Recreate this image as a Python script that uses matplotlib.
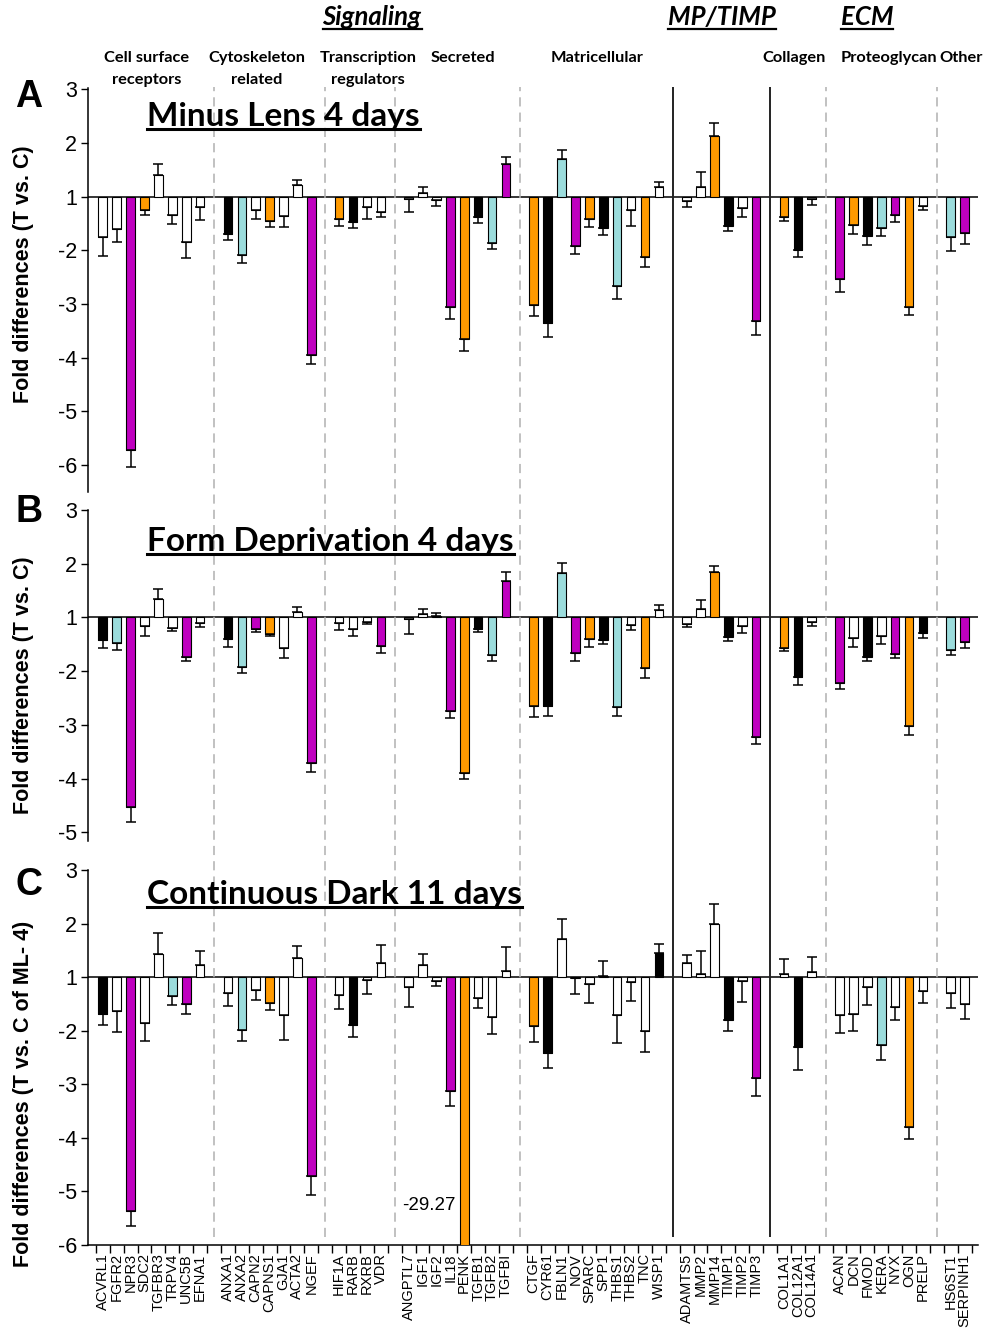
import matplotlib
matplotlib.use("Agg")
import matplotlib.pyplot as plt
from matplotlib.lines import Line2D

W, H = 985, 1332

# gene groups (left to right), an empty slot sits between groups
grp_cell = ["ACVRL1", "FGFR2", "NPR3", "SDC2", "TGFBR3", "TRPV4", "UNC5B", "EFNA1"]
grp_cyto = ["ANXA1", "ANXA2", "CAPN2", "CAPNS1", "GJA1", "ACTA2", "NGEF"]
grp_trans = ["HIF1A", "RARB", "RXRB", "VDR"]
grp_secr = ["ANGPTL7", "IGF1", "IGF2", "IL18", "PENK", "TGFB1", "TGFB2", "TGFBI"]
grp_matri = ["CTGF", "CYR61", "FBLN1", "NOV", "SPARC", "SPP1", "THBS1", "THBS2", "TNC", "WISP1"]
grp_mp = ["ADAMTS5", "MMP2", "MMP14", "TIMP1", "TIMP2", "TIMP3"]
grp_coll = ["COL1A1", "COL12A1", "COL14A1"]
grp_prot = ["ACAN", "DCN", "FMOD", "KERA", "NYX", "OGN", "PRELP"]
grp_other = ["HS6ST1", "SERPINH1"]
groups = [grp_cell, grp_cyto, grp_trans, grp_secr, grp_matri, grp_mp, grp_coll, grp_prot, grp_other]
sep_styles = ["dash", "dash", "dash", "dash", "solid", "solid", "dash", "dash"]

# fold differences (T vs C), one-sided errors, colour codes
ml_vals = [-1.76, -1.61, -5.72, -1.25, 1.40, -1.34, -1.84, -1.20,
           -1.70, -2.09, -1.25, -1.45, -1.37, 1.22, -3.95,
           -1.42, -1.48, -1.20, -1.28,
           -1.04, 1.06, -1.07, -3.06, -3.66, -1.39, -1.86, 1.60,
           -3.02, -3.35, 1.70, -1.92, -1.42, -1.58, -2.66, -1.25, -2.12, 1.17,
           -1.08, 1.17, 2.12, -1.54, -1.22, -3.32,
           -1.39, -1.99, -1.04,
           -2.53, -1.53, -1.73, -1.58, -1.35, -3.05, -1.17,
           -1.76, -1.68]
ml_err = [0.34, 0.23, 0.31, 0.09, 0.20, 0.17, 0.30, 0.24,
          0.11, 0.14, 0.17, 0.12, 0.19, 0.09, 0.17,
          0.12, 0.11, 0.21, 0.11,
          0.25, 0.12, 0.10, 0.22, 0.21, 0.11, 0.12, 0.13,
          0.20, 0.27, 0.17, 0.15, 0.14, 0.14, 0.24, 0.29, 0.20, 0.10,
          0.11, 0.29, 0.24, 0.10, 0.17, 0.25,
          0.06, 0.13, 0.11,
          0.24, 0.16, 0.17, 0.15, 0.12, 0.16, 0.09,
          0.25, 0.20]
ml_col = "wwmowwww" "kcwowwm" "okww" "wwwmokcm" "okcmokcwow" "wwokwm" "okw" "mokcmow" "cm"

fd_vals = [-1.42, -1.47, -4.53, -1.16, 1.34, -1.19, -1.74, -1.11,
           -1.41, -1.92, -1.22, -1.30, -1.56, 1.11, -3.70,
           -1.11, -1.21, -1.08, -1.53,
           -1.02, 1.06, 1.03, -2.74, -3.89, -1.22, -1.69, 1.68,
           -2.65, -2.64, 1.82, -1.67, -1.41, -1.42, -2.67, -1.14, -1.94, 1.14,
           -1.12, 1.15, 1.85, -1.36, -1.16, -3.22,
           -1.56, -2.10, -1.08,
           -2.22, -1.38, -1.73, -1.35, -1.68, -3.02, -1.29,
           -1.61, -1.46]
fd_err = [0.14, 0.14, 0.28, 0.19, 0.19, 0.07, 0.07, 0.07,
          0.14, 0.11, 0.05, 0.05, 0.19, 0.09, 0.17,
          0.12, 0.13, 0.04, 0.14,
          0.28, 0.10, 0.06, 0.14, 0.12, 0.05, 0.12, 0.16,
          0.20, 0.19, 0.20, 0.14, 0.14, 0.07, 0.17, 0.10, 0.18, 0.09,
          0.05, 0.18, 0.11, 0.07, 0.12, 0.14,
          0.06, 0.16, 0.08,
          0.11, 0.17, 0.08, 0.15, 0.07, 0.16, 0.09,
          0.09, 0.10]
fd_col = "kcmwwwmw" "kcmowwm" "wwwm" "wwwmokcm" "okcmokcwow" "wwokwm" "okw" "mwkwmok" "cm"

cd_vals = [-1.69, -1.64, -5.36, -1.85, 1.44, -1.36, -1.51, 1.22,
           -1.30, -1.98, -1.24, -1.48, -1.71, 1.36, -4.72,
           -1.34, -1.89, -1.05, 1.27,
           -1.18, 1.22, -1.08, -3.13, -29.27, -1.39, -1.74, 1.11,
           -1.91, -2.41, 1.72, -1.02, -1.12, 1.03, -1.70, -1.09, -2.00, 1.45,
           1.27, 1.06, 1.99, -1.80, -1.08, -2.88,
           1.06, -2.30, 1.09,
           -1.71, -1.68, -1.19, -2.27, -1.56, -3.80, -1.25,
           -1.29, -1.51]
cd_err = [0.20, 0.38, 0.28, 0.34, 0.38, 0.16, 0.18, 0.26,
          0.24, 0.22, 0.19, 0.13, 0.46, 0.23, 0.35,
          0.26, 0.22, 0.26, 0.33,
          0.37, 0.22, 0.08, 0.27, 0.0, 0.18, 0.32, 0.46,
          0.30, 0.29, 0.37, 0.30, 0.36, 0.28, 0.53, 0.35, 0.39, 0.16,
          0.14, 0.42, 0.38, 0.21, 0.38, 0.33,
          0.27, 0.43, 0.28,
          0.33, 0.33, 0.33, 0.28, 0.24, 0.23, 0.24,
          0.29, 0.27]
cd_col = "kwmwwcmw" "wcwowwm" "wkww" "wwwmowww" "okwwwwwwwk" "wwwkwm" "wkw" "wwwcwow" "ww"

colors = {"w": "white", "k": "black", "c": "#9BDCDC", "o": "#FF9A00", "m": "#BF00BF"}

# slot positions: one empty slot between groups
pos, seps = [], []
s = 0
for gi, g in enumerate(groups):
    for _ in g:
        pos.append(s)
        s += 1
    if gi < len(groups) - 1:
        seps.append(s)
    s += 1
genes = [n for g in groups for n in g]
XLIM = (-1.065, 62.96)


def tr(v):
    # fold change -> linear position (1 and -1 collapse onto 0)
    return v - 1 if v > 0 else v + 1


def fold_label(t):
    return str(t + 1) if t >= 0 else str(t - 1)


def px_axes(top, bottom, left=88, right=978):
    return fig.add_axes([left / W, 1 - bottom / H, (right - left) / W, (bottom - top) / H])


fig = plt.figure(figsize=(W / 100, H / 100), dpi=100)

panels = [
    (88, 492, (-5.5, 2.02), ml_vals, ml_err, ml_col, "A", "Minus Lens 4 days",
     "Fold differences (T vs. C)", 97, 126, 274),
    (510, 841, (-4.16, 2.0), fd_vals, fd_err, fd_col, "B", "Form Deprivation 4 days",
     "Fold differences (T vs. C)", 512, 551, 685),
    (870, 1245, (-5.0, 2.0), cd_vals, cd_err, cd_col, "C", "Continuous Dark 11 days",
     "Fold differences (T vs. C of ML- 4)", 885, 904, 1094),
]

titles = []
for i, (top, bot, ylim, vals, errs, cols, letter, title, ylab, ly, ty, yly) in enumerate(panels):
    ax = px_axes(top, bot)
    t = [tr(v) for v in vals]
    ax.bar(pos, t, width=0.62, color=[colors[c] for c in cols], edgecolor="black",
           linewidth=0.8, zorder=3)
    lo = [e if v < 0 else 0 for v, e in zip(t, errs)]
    hi = [e if v > 0 else 0 for v, e in zip(t, errs)]
    ax.errorbar(pos, t, yerr=[lo, hi], fmt="none", ecolor="black", elinewidth=1.1,
                capsize=3.6, capthick=1.1, zorder=4)
    ax.axhline(0, color="black", lw=1.1, zorder=2)
    ax.set_xlim(*XLIM)
    ax.set_ylim(*ylim)
    yt = [k for k in range(-5, 3) if k >= ylim[0] - 1e-6]
    ax.set_yticks(yt)
    ax.set_yticklabels([fold_label(k) for k in yt], family="Liberation Sans", fontsize=15.5)
    ax.tick_params(axis="y", direction="out", length=5, width=1, pad=3)
    for sp in ["top", "right"]:
        ax.spines[sp].set_visible(False)
    ax.spines["left"].set_linewidth(1.1)
    ax.patch.set_alpha(0)
    if i < 2:
        ax.spines["bottom"].set_visible(False)
        ax.set_xticks([])
    else:
        ax.spines["bottom"].set_linewidth(1.1)
        ax.set_xticks(pos)
        ax.set_xticklabels(genes, rotation=90, family="Liberation Sans", fontsize=10.5)
        ax.set_xticks([p - 0.5 for p in range(0, 64)], minor=True)
        ax.tick_params(axis="x", which="major", length=0, pad=6)
        ax.tick_params(axis="x", which="minor", direction="out", length=6, width=1)
        # PENK bar runs off the axis
        fig.text(456 / W, 1 - 1206 / H, "-29.27", ha="right", va="center",
                 family="Liberation Sans", fontsize=13.5)
    fig.text(29 / W, 1 - ly / H, letter, ha="center", va="center",
             family="Liberation Sans", fontsize=27, fontweight="bold")
    fig.text(24 / W, 1 - yly / H, ylab, ha="center", va="center", rotation=90,
             family="Liberation Sans", fontsize=15.5, fontweight="bold")
    tt = fig.text(147 / W, 1 - ty / H, title, ha="left", va="baseline",
                  family="Lato", fontsize=24, fontweight="bold")
    titles.append((tt, ty + 3))

# separators running through all panels
ov = px_axes(87, 1237)
ov.set_xlim(*XLIM)
ov.set_ylim(0, 1)
ov.set_axis_off()
for x, st in zip(seps, sep_styles):
    if st == "solid":
        ov.axvline(x, color="#222222", lw=1.4)
    else:
        ov.axvline(x, color="#B0B0B0", lw=1.1, dashes=(6, 4))

# header texts
heads = []
for txt, x in [("Signaling", 372), ("MP/TIMP", 722), ("ECM", 867)]:
    h = fig.text(x / W, 1 - 25 / H, txt, ha="center", va="baseline", family="Lato",
                 fontsize=18.5, fontweight="bold", style="italic")
    heads.append((h, 29))
sub = [("Cell surface", 147, 62), ("receptors", 147, 84), ("Cytoskeleton", 257, 62),
       ("related", 257, 84), ("Transcription", 368, 62), ("regulators", 368, 84),
       ("Secreted", 463, 62), ("Matricellular", 597, 62), ("Collagen", 794, 62),
       ("Proteoglycan", 889, 62), ("Other", 961, 62)]
for txt, x, y in sub:
    fig.text(x / W, 1 - y / H, txt, ha="center", va="baseline", family="Lato",
             fontsize=11.8, fontweight="bold")

# underlines
fig.canvas.draw()
r = fig.canvas.get_renderer()
title_objs = [a for a, _ in titles]
for t_obj, uy in titles + heads:
    bb = t_obj.get_window_extent(r)
    lw = 2.2 if t_obj in title_objs else 1.6
    fig.add_artist(Line2D([bb.x0 / W, bb.x1 / W], [1 - uy / H, 1 - uy / H],
                          color="black", lw=lw, transform=fig.transFigure))

fig.savefig("out.png", dpi=100)
